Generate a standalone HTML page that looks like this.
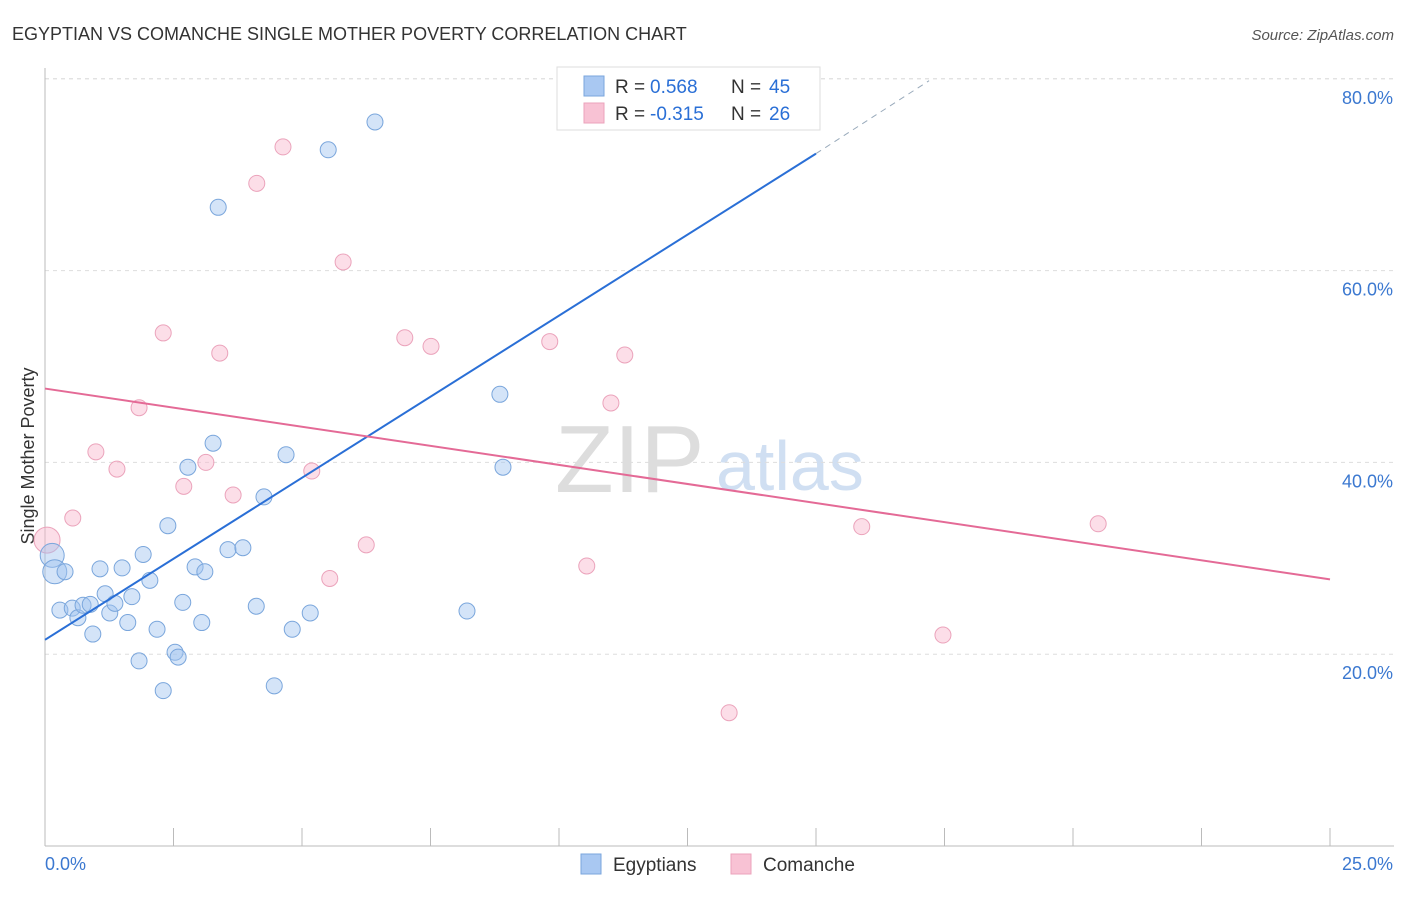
<!DOCTYPE html>
<html><head><meta charset="utf-8"><style>
body{margin:0;background:#fff;font-family:"Liberation Sans",sans-serif}
svg text{font-family:"Liberation Sans",sans-serif}
</style></head><body>
<svg id="c" width="1406" height="892"></svg>
<script>
const blueX=[0.14,0.19,0.39,0.29,0.53,0.64,0.74,0.88,0.93,1.07,1.17,1.26,1.36,1.50,1.61,1.69,1.83,1.91,2.04,2.18,2.30,2.39,2.53,2.59,2.68,2.78,2.92,3.05,3.11,3.27,3.37,3.56,3.85,4.11,4.26,4.46,4.69,4.81,5.16,5.51,6.42,8.21,8.85,8.91,10.47];
const blueY=[30.3,28.6,28.6,24.6,24.8,23.8,25.1,25.2,22.1,28.9,26.3,24.3,25.3,29.0,23.3,26.0,19.3,30.4,27.7,22.6,16.2,33.4,20.2,19.7,25.4,39.5,29.1,23.3,28.6,42.0,66.6,30.9,31.1,25.0,36.4,16.7,40.8,22.6,24.3,72.6,75.5,24.5,47.1,39.5,77.6];
const pinkX=[0.04,0.54,0.99,1.40,1.83,2.30,2.70,3.13,3.40,3.66,4.12,4.63,5.19,5.54,5.80,6.25,7.00,7.51,9.82,10.54,11.01,11.28,13.31,15.89,17.47,20.49];
const pinkY=[31.9,34.2,41.1,39.3,45.7,53.5,37.5,40.0,51.4,36.6,69.1,72.9,39.1,27.9,60.9,31.4,53.0,52.1,52.6,29.2,46.2,51.2,13.9,33.3,22.0,33.6];
const blueTrendX=[0,15,17.2], blueTrendY=[21.5,72.2,79.8];
const pinkTrendX=[0,25], pinkTrendY=[47.7,27.8];
const yTicks=[20,40,60,80];
const xTicks=[0,2.5,5,7.5,10,12.5,15,17.5,20,22.5,25];
const X=v=>45+v*51.4, Y=v=>846-v*9.59;
const s=document.getElementById('c');const NS='http://www.w3.org/2000/svg';
function el(t,a,txt){const e=document.createElementNS(NS,t);for(const k in a)e.setAttribute(k,a[k]);if(txt!=null)e.textContent=txt;s.appendChild(e);return e;}
let e;
e=el('text',{x:12,y:40,'font-size':18,fill:'#333'},'EGYPTIAN VS COMANCHE SINGLE MOTHER POVERTY CORRELATION CHART');

e=el('text',{x:1394,y:40,'font-size':15,fill:'#555','text-anchor':'end','font-style':'italic'},'Source: ZipAtlas.com');

e=el('text',{x:555,y:492,'font-size':96,fill:'#ddd','font-family':'Liberation Serif'},'ZIP');

e=el('text',{x:716,y:490,'font-size':70,fill:'#d0dff2'},'atlas');

yTicks.forEach(v=>{e=el('line',{x1:45,x2:1394,y1:Y(v),y2:Y(v),stroke:'#ddd','stroke-dasharray':'4,4'});

e=el('text',{x:1393,y:Y(v)+25,'font-size':18,fill:'#3b78d0','text-anchor':'end'},v.toFixed(1)+'%');
});
e=el('line',{x1:45,x2:1394,y1:Y(80),y2:Y(80),stroke:'#ddd','stroke-dasharray':'4,4'});
e=el('line',{x1:45,x2:45,y1:68,y2:846,stroke:'#bbb'});

e=el('line',{x1:45,x2:1394,y1:846,y2:846,stroke:'#bbb'});

xTicks.forEach(v=>{e=el('line',{x1:X(v),x2:X(v),y1:828,y2:846,stroke:'#bbb'});
});
e=el('text',{x:45,y:870,'font-size':18,fill:'#3b78d0'},'0.0%');

e=el('text',{x:1393,y:870,'font-size':18,fill:'#3b78d0','text-anchor':'end'},'25.0%');

e=el('text',{x:34,y:456,'font-size':18,fill:'#333','text-anchor':'middle',transform:'rotate(-90 34 456)'},'Single Mother Poverty');

pinkX.forEach((x,i)=>{e=el('circle',{cx:X(x),cy:Y(pinkY[i]),r:i==0?13:8,fill:'rgba(248,182,204,0.45)',stroke:'#eba3bb','stroke-width':1});
});
blueX.forEach((x,i)=>{e=el('circle',{cx:X(x),cy:Y(blueY[i]),r:i<2?12:8,fill:'rgba(160,196,240,0.45)',stroke:'#7aa6dc','stroke-width':1});
});
e=el('line',{x1:X(blueTrendX[0]),y1:Y(blueTrendY[0]),x2:X(blueTrendX[1]),y2:Y(blueTrendY[1]),stroke:'#2a6fd6','stroke-width':2});

e=el('line',{x1:X(blueTrendX[1]),y1:Y(blueTrendY[1]),x2:X(blueTrendX[2]),y2:Y(blueTrendY[2]),stroke:'#9ab','stroke-width':1,'stroke-dasharray':'6,5'});

e=el('line',{x1:X(pinkTrendX[0]),y1:Y(pinkTrendY[0]),x2:X(pinkTrendX[1]),y2:Y(pinkTrendY[1]),stroke:'#e46a96','stroke-width':2});

e=el('rect',{x:557,y:67,width:263,height:63,fill:'#fff',stroke:'#ddd'});

[[0,'0.568','45','#a9c8f2','#7aa6dc'],[1,'-0.315','26','#f8c2d4','#eba3bb']].forEach(r=>{const y=86+r[0]*27;
e=el('rect',{x:584,y:y-10,width:20,height:20,fill:r[3],stroke:r[4]});

e=el('text',{x:615,y:y+7,'font-size':19,fill:'#333'},'R = ');
e=el('text',{x:650,y:y+7,'font-size':19,fill:'#2a6fd6'},r[1]);

e=el('text',{x:731,y:y+7,'font-size':19,fill:'#333'},'N = ');
e=el('text',{x:769,y:y+7,'font-size':19,fill:'#2a6fd6'},r[2]);
});
[[581,'Egyptians','#a9c8f2','#7aa6dc'],[731,'Comanche','#f8c2d4','#eba3bb']].forEach(r=>{
e=el('rect',{x:r[0],y:854,width:20,height:20,fill:r[2],stroke:r[3]});

e=el('text',{x:r[0]+32,y:871,'font-size':19,fill:'#333'},r[1]);
});
</script></body></html>
